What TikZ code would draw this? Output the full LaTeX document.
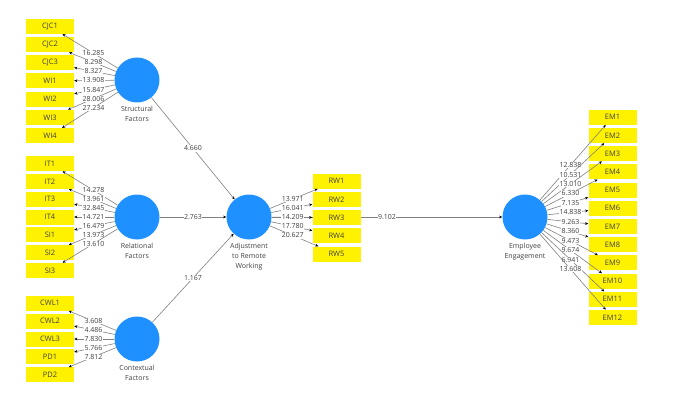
\documentclass[tikz,border=0pt]{standalone}
\usepackage{fontspec}
\setmainfont{Open Sans}
\usetikzlibrary{arrows.meta,positioning,calc}
\definecolor{lvblue}{RGB}{30,144,255}
\definecolor{linegray}{RGB}{128,128,128}
\definecolor{txtgray}{RGB}{64,64,64}

\begin{document}
\begin{tikzpicture}[x=1pt,y=-1pt,
  lv/.style={circle,fill=lvblue,minimum size=45pt,inner sep=0pt},
  lvtext/.style={align=center,font=\fontsize{7}{10}\selectfont,text=txtgray,inner sep=1pt},
  mv/.style={fill=yellow,minimum width=48pt,minimum height=15pt,inner sep=0pt,font=\fontsize{7.5}{9}\selectfont,text=txtgray},
  conn/.style={linegray,line width=0.6pt,-{Stealth[length=3.2pt,width=2.8pt,color=black]}},
  val/.style={fill=white,inner sep=0.5pt,font=\fontsize{7}{8}\selectfont,text=txtgray}]
\useasboundingbox (0,0) rectangle (674,409);

% latent variables
\node[lv] (sf) at (137,80) {};
\node[lv] (rf) at (137,217) {};
\node[lv] (cf) at (137,339) {};
\node[lv] (arw) at (249,217) {};
\node[lv] (ee) at (525,217) {};

\node[lvtext,below=2pt of sf] (sf-t) {Structural\\Factors};
\node[lvtext,below=2pt of rf] (rf-t) {Relational\\Factors};
\node[lvtext,below=2pt of cf] (cf-t) {Contextual\\Factors};
\node[lvtext,below=2pt of arw] (arw-t) {Adjustment\\to Remote\\Working};
\node[lvtext,below=2pt of ee] (ee-t) {Employee\\Engagement};

% inner model
\draw[conn] (sf) -- (arw) node[val] at ($(sf)!.5!(arw)$) {4.660};
\draw[conn] (rf) -- (arw) node[val] at ($(rf)!.5!(arw)$) {2.763};
\draw[conn] (cf) -- (arw) node[val] at ($(cf)!.5!(arw)$) {1.167};
\draw[conn] (arw) -- (ee) node[val] at ($(arw)!.5!(ee)$) {9.102};

% indicators
\foreach \n [count=\i] in {CJC1,CJC2,CJC3,WI1,WI2,WI3,WI4}
  \node[mv] (\n) at (50,{81+(\i-4)*18.2}) {\n};
\foreach \n [count=\i] in {IT1,IT2,IT3,IT4,SI1,SI2,SI3}
  \node[mv] (\n) at (50,{217+(\i-4)*17.8}) {\n};
\foreach \n [count=\i] in {CWL1,CWL2,CWL3,PD1,PD2}
  \node[mv] (\n) at (50,{339+(\i-3)*17.9}) {\n};
\foreach \n [count=\i] in {RW1,RW2,RW3,RW4,RW5}
  \node[mv] (\n) at (336.5,{217.6+(\i-3)*18.2}) {\n};
\foreach \n [count=\i] in {EM1,EM2,EM3,EM4,EM5,EM6,EM7,EM8,EM9,EM10,EM11,EM12}
  \node[mv] (\n) at (612.5,{217.3+(\i-6.5)*18.2}) {\n};

% outer loadings
\foreach \n/\v in {CJC1/16.285,CJC2/8.298,CJC3/8.327,WI1/13.908,WI2/15.847,WI3/28.006,WI4/27.234}
  \draw[conn] (sf) -- (\n) node[val] at ($(sf)!.5!(\n)$) {\v};
\foreach \n/\v in {IT1/14.278,IT2/13.961,IT3/32.845,IT4/14.721,SI1/16.479,SI2/13.973,SI3/13.610}
  \draw[conn] (rf) -- (\n) node[val] at ($(rf)!.5!(\n)$) {\v};
\foreach \n/\v in {CWL1/3.608,CWL2/4.486,CWL3/7.830,PD1/5.766,PD2/7.812}
  \draw[conn] (cf) -- (\n) node[val] at ($(cf)!.5!(\n)$) {\v};
\foreach \n/\v in {RW1/13.971,RW2/16.041,RW3/14.209,RW4/17.780,RW5/20.627}
  \draw[conn] (arw) -- (\n) node[val] at ($(arw)!.5!(\n)$) {\v};
\foreach \n/\v in {EM1/12.838,EM2/10.531,EM3/13.010,EM4/6.330,EM5/7.135,EM6/14.838,EM7/9.263,EM8/8.360,EM9/9.473,EM10/9.674,EM11/6.941,EM12/13.608}
  \draw[conn] (ee) -- (\n) node[val] at ($(ee)!.52!(\n)$) {\v};

\end{tikzpicture}
\end{document}
